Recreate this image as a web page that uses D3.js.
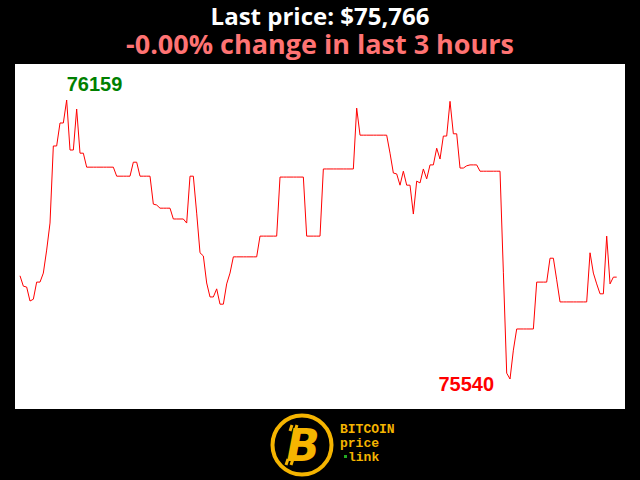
<!DOCTYPE html>
<html>
<head>
<meta charset="utf-8">
<script src="https://cdn.jsdelivr.net/npm/d3@7"></script>
<style>
  html, body { margin: 0; padding: 0; background: #000; }
  svg { display: block; }
</style>
</head>
<body>
<svg id="chart" width="640" height="480"></svg>
<script>
// ---- data (one price per minute, last 3 hours) ----
const prices = [
  75769, 75746, 75744, 75713, 75717, 75755, 75755, 75775, 75826, 75886,
  76057, 76057, 76108, 76108, 76159, 76048, 76048, 76139, 76041, 76041,
  76010, 76010, 76010, 76010, 76010, 76010, 76010, 76010, 76010, 75990,
  75990, 75990, 75990, 75990, 76021, 76021, 75990, 75990, 75990, 75990,
  75928, 75926, 75919, 75919, 75919, 75919, 75895, 75895, 75895, 75895,
  75886, 75990, 75990, 75908, 75820, 75813, 75753, 75722, 75722, 75740,
  75706, 75706, 75751, 75775, 75811, 75811, 75811, 75811, 75811, 75811,
  75811, 75811, 75857, 75857, 75857, 75857, 75857, 75857, 75988, 75988,
  75988, 75988, 75988, 75988, 75988, 75988, 75857, 75857, 75857, 75857,
  75857, 76006, 76006, 76006, 76006, 76006, 76006, 76006, 76006, 76006,
  76006, 76141, 76081, 76081, 76081, 76081, 76081, 76081, 76081, 76081,
  76081, 76041, 75997, 75995, 75970, 76001, 75970, 75970, 75906, 75979,
  75975, 76006, 75984, 76015, 76015, 76052, 76028, 76079, 76079, 76156,
  76084, 76084, 76008, 76008, 76013, 76015, 76015, 76015, 76001, 76001,
  76001, 76001, 76001, 76001, 76001, 75777, 75553, 75540, 75604, 75651,
  75651, 75651, 75651, 75651, 75651, 75755, 75755, 75755, 75755, 75808,
  75808, 75760, 75711, 75711, 75711, 75711, 75711, 75711, 75711, 75711,
  75711, 75820, 75775, 75751, 75729, 75729, 75857, 75751, 75766, 75766
];
const titleText = "Last price: $75,766";
const changeText = "-0.00% change in last 3 hours";
const logoLines = ["BITCOIN", "price", "link"];

// ---- layout ----
const W = 640, H = 480;
const svg = d3.select("#chart");
svg.append("rect").attr("width", W).attr("height", H).attr("fill", "#000");

// plot panel
svg.append("rect")
  .attr("x", 15).attr("y", 64).attr("width", 610).attr("height", 345)
  .attr("fill", "#fff");

const maxV = d3.max(prices), minV = d3.min(prices);
const maxI = prices.indexOf(maxV), minI = prices.indexOf(minV);

const x = d3.scaleLinear().domain([0, prices.length - 1]).range([20, 616.7]);
const y = d3.scaleLinear().domain([minV, maxV]).range([379, 100]);

const line = d3.line().x((d, i) => x(i)).y(d => y(d));
svg.append("path")
  .datum(prices)
  .attr("d", line)
  .attr("fill", "none")
  .attr("stroke", "#ff0000")
  .attr("stroke-width", 1)
  .attr("stroke-linejoin", "round");

// max / min labels
svg.append("text")
  .attr("x", x(maxI)).attr("y", y(maxV) - 9)
  .attr("fill", "#008000")
  .attr("font-family", "'Liberation Sans', Arial, sans-serif")
  .attr("font-weight", "bold").attr("font-size", 20)
  .text(maxV);
svg.append("text")
  .attr("x", x(minI) - 16).attr("y", y(minV) + 12)
  .attr("text-anchor", "end")
  .attr("fill", "#ff0000")
  .attr("font-family", "'Liberation Sans', Arial, sans-serif")
  .attr("font-weight", "bold").attr("font-size", 20)
  .text(minV);

// titles
svg.append("text")
  .attr("x", 320).attr("y", 25)
  .attr("text-anchor", "middle")
  .attr("fill", "#fff")
  .attr("font-family", "'Open Sans', sans-serif")
  .attr("font-weight", "bold").attr("font-size", 24)
  .text(titleText);
svg.append("text")
  .attr("x", 320).attr("y", 54)
  .attr("text-anchor", "middle")
  .attr("fill", "#ff7373")
  .attr("font-family", "'Open Sans', sans-serif")
  .attr("font-weight", "bold").attr("font-size", 27)
  .text(changeText);

// logo
const gold = "#f5b400";
const logo = svg.append("g");
logo.append("circle").attr("cx", 302).attr("cy", 445).attr("r", 29.5)
  .attr("fill", "#000").attr("stroke", gold).attr("stroke-width", 4);
logo.append("text")
  .attr("x", 303).attr("y", 461)
  .attr("text-anchor", "middle")
  .attr("fill", gold)
  .attr("font-family", "'DejaVu Sans', sans-serif")
  .attr("font-weight", "bold").attr("font-style", "italic")
  .attr("font-size", 44)
  .text("B");
// bitcoin ticks
[[292, 425, 290, 431], [297, 425, 295, 431], [288, 459, 286, 465], [293, 459, 291, 465]].forEach(s => {
  logo.append("line").attr("x1", s[0]).attr("y1", s[1]).attr("x2", s[2]).attr("y2", s[3])
    .attr("stroke", gold).attr("stroke-width", 3);
});
const mono = "'Liberation Mono', 'DejaVu Sans Mono', monospace";
logo.append("text").attr("x", 340).attr("y", 433)
  .attr("fill", gold).attr("font-family", mono)
  .attr("font-weight", "bold").attr("font-size", 13).text(logoLines[0]);
logo.append("text").attr("x", 340).attr("y", 447)
  .attr("fill", gold).attr("font-family", mono)
  .attr("font-weight", "bold").attr("font-size", 13).text(logoLines[1]);
logo.append("rect").attr("x", 344).attr("y", 455).attr("width", 3).attr("height", 3)
  .attr("fill", "#22aa22");
logo.append("text").attr("x", 348).attr("y", 461)
  .attr("fill", gold).attr("font-family", mono)
  .attr("font-weight", "bold").attr("font-size", 13).text(logoLines[2]);
</script>
</body>
</html>
